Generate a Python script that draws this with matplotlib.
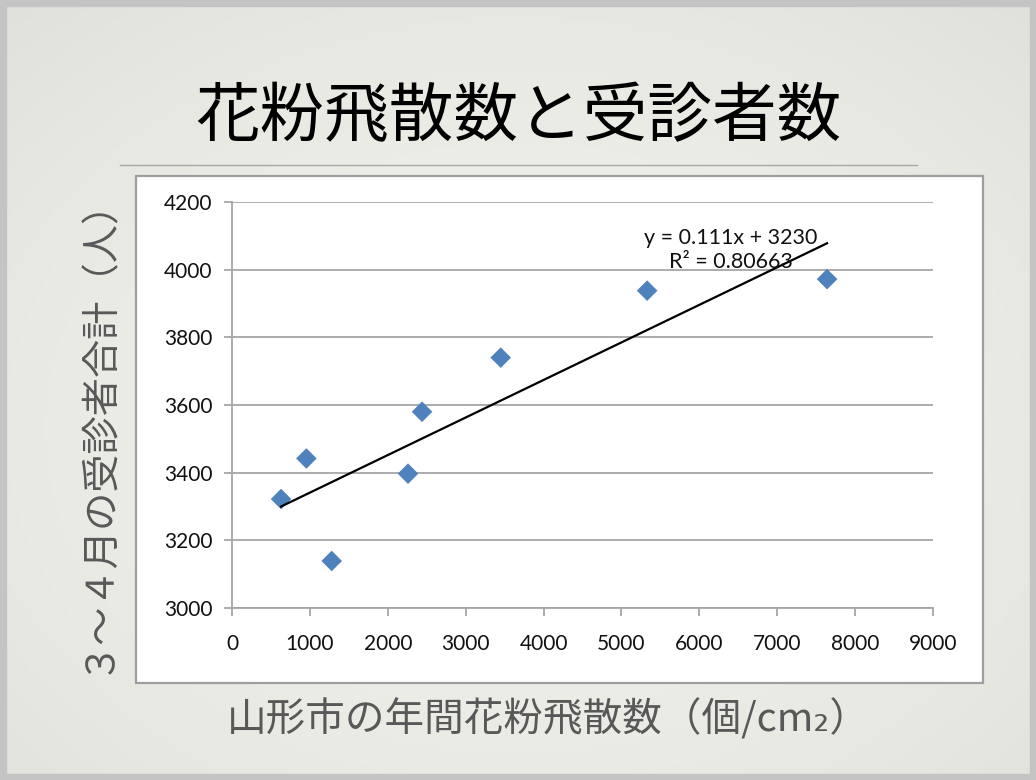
import numpy as np
import matplotlib.pyplot as plt
from matplotlib.patches import Rectangle

# data
pollen = [630, 955, 1280, 2260, 2440, 3450, 5330, 7640]
patients = [3322, 3442, 3139, 3397, 3580, 3740, 3938, 3972]
slope, intercept = 0.111, 3230
r2 = 0.80663

title = '花粉飛散数と受診者数'
xlabel = '山形市の年間花粉飛散数（個/cm₂）'
ylabel = '３～４月の受診者合計（人）'
xticks = list(range(0, 10000, 1000))
yticks = list(range(3000, 4400, 200))

cjk = ['Noto Sans CJK JP', 'DejaVu Sans']
num_font = 'Lato'

fig = plt.figure(figsize=(10.36, 7.80), dpi=100)

# slide background with soft vignette
bg = fig.add_axes([0, 0, 1, 1], zorder=-10)
yy, xx = np.mgrid[0:1:200j, 0:1:260j]
d = np.sqrt(((xx - 0.5) / 0.75) ** 2 + ((yy - 0.45) / 0.75) ** 2)
shade = 0.94 - 0.06 * d ** 2
img = np.dstack([shade, shade, shade * 0.975])
bg.imshow(img, extent=[0, 1, 0, 1], aspect='auto', origin='lower')
bg.set_xlim(0, 1)
bg.set_ylim(0, 1)
bg.axis('off')
# outer frame
for r in [Rectangle((0, 0), 1, 6 / 780), Rectangle((0, 1 - 6 / 780), 1, 6 / 780),
          Rectangle((0, 0), 6 / 1036, 1), Rectangle((1 - 6 / 1036, 0), 6 / 1036, 1)]:
    r.set_color('#c4c4c4')
    bg.add_patch(r)

# title and rule
fig.text(0.5, 1 - 117 / 780, title, ha='center', va='center',
         fontsize=46.5, family=cjk, color='black')
fig.add_artist(plt.Line2D([120 / 1036, 917 / 1036], [1 - 165 / 780] * 2,
                          color='#a8a8a8', lw=1.0))

# white chart frame
fig.add_artist(Rectangle((136 / 1036, 1 - 683 / 780), 847 / 1036, 507 / 780,
                         transform=fig.transFigure, facecolor='white',
                         edgecolor='#9e9e9e', lw=1.6, zorder=0))

ax = fig.add_axes([232 / 1036, 1 - 608 / 780, 701 / 1036, 406 / 780])
ax.set_facecolor('none')
ax.scatter(pollen, patients, marker='D', s=110, color='#4f81bd',
           edgecolors='none', zorder=3)

xs = np.array([min(pollen), max(pollen)])
ax.plot(xs, slope * xs + intercept, color='black', lw=1.6, zorder=4)

ax.text(6400, 4058, f'y = {slope}x + {intercept}\nR² = {r2}', ha='center',
        va='center', fontsize=15.5, family=num_font, linespacing=1.3,
        color='#111111', zorder=5)

ax.set_xlim(0, 9000)
ax.set_ylim(3000, 4200)
ax.set_xticks(xticks)
ax.set_yticks(yticks)
ax.yaxis.grid(True, color='#a6a6a6', lw=1.3)
ax.set_axisbelow(True)
for s in ['top', 'right']:
    ax.spines[s].set_visible(False)
for s in ['left', 'bottom']:
    ax.spines[s].set_color('#a6a6a6')
    ax.spines[s].set_linewidth(1.3)
ax.tick_params(axis='both', direction='out', length=6, width=1.3,
               color='#a6a6a6', labelsize=15, labelcolor='#111111')
ax.tick_params(axis='x', pad=13)
ax.tick_params(axis='y', pad=8)
for lab in ax.get_xticklabels() + ax.get_yticklabels():
    lab.set_family(num_font)

fig.text(97 / 1036, 1 - 425 / 780, ylabel, rotation=90, ha='center',
         va='center', fontsize=27.5, family=cjk, color='#585858')
fig.text(548 / 1036, 1 - 720 / 780, xlabel, ha='center', va='center',
         fontsize=28.5, family=cjk, color='#585858')

fig.savefig('out.png', dpi=100)
